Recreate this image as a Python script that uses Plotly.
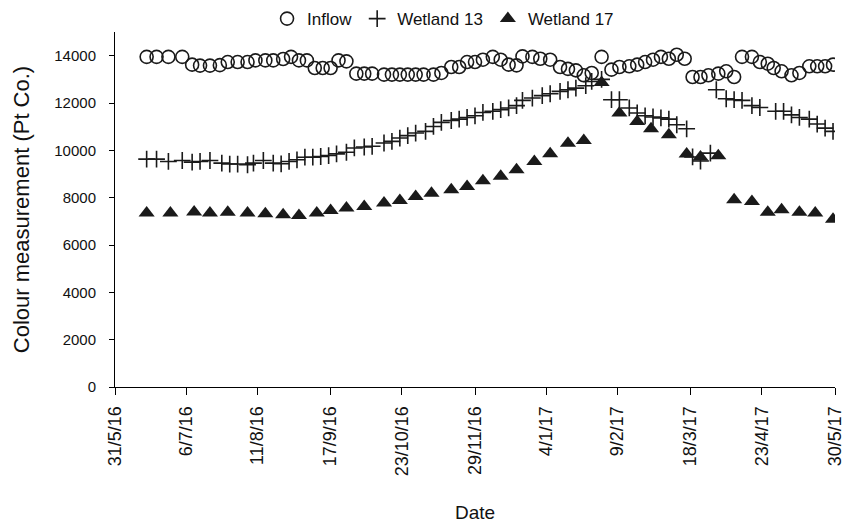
import pandas as pd
import plotly.graph_objects as go

start_date = "2016-05-31"

# Day offsets (from 31/5/16) and colour values
inflow_day = [16, 21, 27, 34, 39, 43, 48, 53, 57, 62, 67, 71, 76, 80, 85, 89, 93, 97, 101, 105,
              109, 113, 117, 122, 126, 130, 136, 140, 144, 148, 152, 156, 161, 165, 170, 174, 178, 182, 186, 191,
              195, 199, 203, 206, 211, 215, 220, 225, 229, 233, 237, 241, 246, 251, 255, 260, 264, 268, 272, 276,
              280, 284, 288, 292, 296, 300, 305, 309, 313, 317, 322, 326, 330, 333, 337, 342, 346, 351, 355, 359, 363]
inflow_val = [13950, 13950, 13950, 13950, 13620, 13580, 13580, 13600, 13730, 13730, 13730, 13800, 13800, 13800,
              13860, 13950, 13800, 13800, 13480, 13480, 13480, 13800, 13760, 13240, 13240, 13240, 13200, 13200,
              13200, 13200, 13200, 13200, 13200, 13270, 13520, 13520, 13730, 13730, 13830, 13950, 13830, 13620,
              13590, 13970, 13950, 13870, 13830, 13520, 13440, 13380, 13170, 13270, 13950, 13410, 13520, 13550,
              13620, 13730, 13830, 13950, 13870, 14040, 13870, 13100, 13100, 13170, 13240, 13340, 13100, 13950,
              13950, 13730, 13660, 13480, 13340, 13170, 13270, 13550, 13550, 13550, 13620]

w13_day = [16, 21, 27, 34, 39, 43, 48, 54, 58, 62, 67, 70, 75, 80, 84, 88, 92, 96, 100, 104,
           108, 112, 117, 121, 126, 130, 136, 140, 144, 148, 152, 157, 161, 165, 170, 174, 178, 182, 186, 191,
           195, 199, 203, 206, 211, 216, 220, 225, 229, 233, 238, 241, 246, 251, 255, 260, 264, 268, 272, 276,
           280, 284, 289, 292, 296, 301, 304, 309, 313, 317, 322, 326, 334, 338, 342, 346, 351, 355, 359, 363]
w13_val = [9630, 9630, 9530, 9570, 9500, 9530, 9570, 9460, 9420, 9420, 9390, 9460, 9570, 9460, 9430, 9530,
           9600, 9710, 9710, 9740, 9780, 9850, 9920, 10100, 10140, 10170, 10310, 10380, 10520, 10620, 10730,
           10800, 11010, 11180, 11260, 11320, 11390, 11460, 11600, 11650, 11720, 11790, 11890, 12110, 12210,
           12310, 12390, 12490, 12560, 12630, 12730, 12910, 13000, 12140, 12140, 11790, 11580, 11460, 11410,
           11370, 11320, 11080, 10910, 9720, 9550, 9880, 12560, 12180, 12140, 12110, 11890, 11810, 11650,
           11650, 11500, 11390, 11320, 11110, 10940, 10800]

w17_day = [16, 28, 40, 48, 57, 67, 76, 85, 93, 102, 109, 117, 126, 136, 144, 152, 160, 170, 178, 186,
           195, 203, 212, 220, 229, 237, 246, 255, 264, 271, 280, 289, 296, 305, 313, 322, 330, 337, 346, 354, 363]
w17_val = [7350, 7350, 7390, 7350, 7380, 7350, 7320, 7280, 7250, 7350, 7460, 7560, 7630, 7770, 7880, 8050,
           8190, 8330, 8470, 8710, 8900, 9180, 9530, 9860, 10300, 10420, 12870, 11580, 11220, 10910, 10660,
           9840, 9720, 9770, 7910, 7840, 7380, 7490, 7380, 7350, 7090]

tick_dates = ["2016-05-31", "2016-07-06", "2016-08-11", "2016-09-17", "2016-10-23", "2016-11-29",
              "2017-01-04", "2017-02-09", "2017-03-18", "2017-04-23", "2017-05-30"]
tick_text = ["31/5/16", "6/7/16", "11/8/16", "17/9/16", "23/10/16", "29/11/16",
             "4/1/17", "9/2/17", "18/3/17", "23/4/17", "30/5/17"]
y_ticks = [0, 2000, 4000, 6000, 8000, 10000, 12000, 14000]
y_tick_text = [str(v) for v in y_ticks]


def to_dates(days):
    return pd.to_datetime(start_date) + pd.to_timedelta(days, unit="D")


FONT = "Liberation Sans, Arial, sans-serif"
INK = "#1a1a1a"

fig = go.Figure()
fig.add_trace(go.Scatter(
    x=to_dates(inflow_day), y=inflow_val, mode="markers", name="Inflow",
    marker=dict(symbol="circle-open", size=13, color=INK, line=dict(width=1.6, color=INK)),
))
fig.add_trace(go.Scatter(
    x=to_dates(w13_day), y=w13_val, mode="markers", name="Wetland 13",
    marker=dict(symbol="cross-thin", size=12, color=INK, line=dict(width=1.6, color=INK)),
))
fig.add_trace(go.Scatter(
    x=to_dates(w17_day), y=w17_val, mode="markers", name="Wetland 17",
    marker=dict(symbol="triangle-up", size=14, color=INK, line=dict(width=0)),
))

fig.update_layout(
    width=852, height=523,
    margin=dict(l=115, r=17, t=32, b=136, autoexpand=False),
    paper_bgcolor="white", plot_bgcolor="white",
    font=dict(family=FONT, size=15, color="#111111"),
    showlegend=True,
    legend=dict(orientation="h", x=0.52, xanchor="center", y=0.998, yanchor="top",
                yref="container", xref="container", font=dict(size=17, family=FONT), itemwidth=30,
                tracegroupgap=0, bgcolor="rgba(0,0,0,0)"),
    xaxis=dict(
        type="date", automargin=False,
        range=[to_dates([0])[0], to_dates([364])[0]],
        tickmode="array", tickvals=tick_dates, ticktext=tick_text,
        tickangle=-90, ticks="outside", ticklen=7, tickcolor="black", tickwidth=1,
        ticklabelstandoff=4,
        showline=True, linecolor="black", linewidth=1, showgrid=False, zeroline=False,
        tickfont=dict(size=18, family=FONT),
        title=dict(text="Date", font=dict(size=19, family=FONT), standoff=30),
    ),
    yaxis=dict(
        range=[0, 15000], automargin=False,
        tickmode="array", tickvals=y_ticks, ticktext=y_tick_text,
        ticks="outside", ticklen=5, tickcolor="black", tickwidth=1,
        ticklabelstandoff=10,
        showline=True, linecolor="black", linewidth=1, showgrid=False, zeroline=False,
        tickfont=dict(size=15, family=FONT),
        title=dict(text="Colour measurement (Pt Co.)", font=dict(size=22, family=FONT), standoff=18),
    ),
)

fig.write_html("out.html", config={"displayModeBar": False},
               post_script="document.body.style.margin='0';")
